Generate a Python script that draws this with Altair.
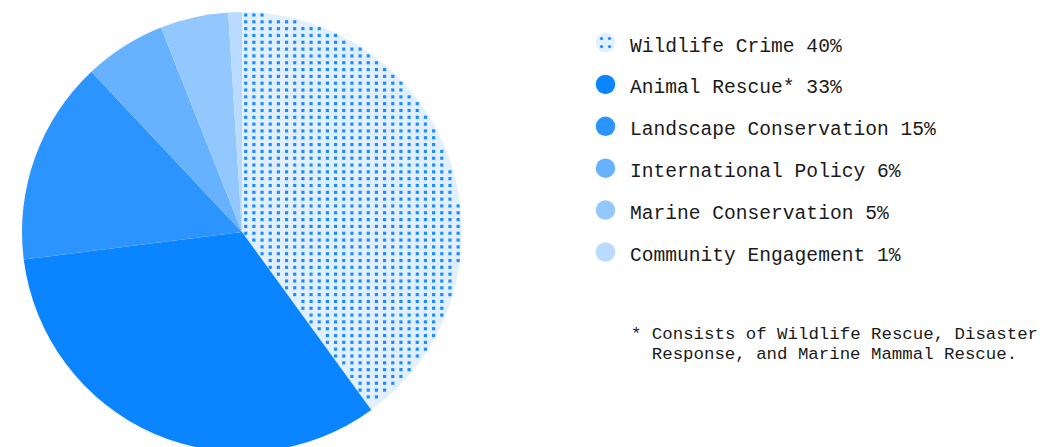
import altair as alt
import pandas as pd

# ---- data ----
categories = ["Wildlife Crime", "Animal Rescue*", "Landscape Conservation",
              "International Policy", "Marine Conservation", "Community Engagement"]
shares = [40, 33, 15, 6, 5, 1]
colors = ["#e1efff", "#0a84ff", "#2c94ff", "#66b2ff", "#93c8ff", "#b8dbff"]
footnote_lines = ["* Consists of Wildlife Rescue, Disaster",
                  "Response, and Marine Mammal Rescue."]

labels = [f"{c} {s}%" for c, s in zip(categories, shares)]
df = pd.DataFrame({"category": categories, "share": shares,
                   "label": labels, "order": list(range(len(categories)))})

W, H = 1043, 447
CX, CY, R = 242, 232, 220
DOT = "#1a8cff"
FONT = "Liberation Mono"

# ---- pie ----
pie = alt.Chart(df).mark_arc(outerRadius=R, strokeWidth=0).encode(
    theta=alt.Theta("share:Q", stack=True),
    order=alt.Order("order:Q"),
    color=alt.Color("category:N", scale=alt.Scale(domain=categories, range=colors), legend=None),
    x=alt.value(CX), y=alt.value(CY),
)

# ---- dotted texture on the first wedge ----
NC, NR = 28, 66
end_angle = 2 * 3.141592653589793 * shares[0] / sum(shares)
px_scale = alt.Scale(domain=[0, W], range=[0, W], nice=False, zero=False)
py_scale = alt.Scale(domain=[0, H], range=[0, H], nice=False, zero=False)
dots = alt.Chart(alt.sequence(0, NC * NR, as_="i")).transform_calculate(
    px=f"{CX + 3.7} + 8.17 * (datum.i % {NC})",
    py=f"15 + 6.82 * floor(datum.i / {NC})",
).transform_calculate(
    dx=f"datum.px - {CX}", dy=f"datum.py - {CY}",
).transform_calculate(
    r="sqrt(datum.dx * datum.dx + datum.dy * datum.dy)",
    a="atan2(datum.dx, -datum.dy)",
).transform_filter(
    f"datum.r <= {R - 2} && datum.a >= 0 && datum.r * sin({end_angle} - datum.a) >= 2"
).mark_square(size=10, color=DOT, opacity=1, strokeWidth=0).encode(
    x=alt.X("px:Q", scale=px_scale, axis=None),
    y=alt.Y("py:Q", scale=py_scale, axis=None),
)

# ---- legend ----
ly = alt.Y("label:N", scale=alt.Scale(type="point", domain=labels, range=[42.5, 252], padding=0), axis=None)
leg_circles = alt.Chart(df).mark_circle(size=380, opacity=1).encode(
    x=alt.value(605.5), y=ly,
    color=alt.Color("category:N", scale=alt.Scale(domain=categories, range=colors), legend=None),
)
first = df.iloc[[0]]
leg_dots = [
    alt.Chart(first).mark_circle(size=10, color=DOT, opacity=1, xOffset=ox, yOffset=oy).encode(
        x=alt.value(605.5), y=ly)
    for ox in (-4, 4) for oy in (-4, 4)
]
leg_text = alt.Chart(df).mark_text(align="left", baseline="alphabetic", dy=9,
                                    font=FONT, fontSize=19.6, color="#1a1a1a").encode(
    x=alt.value(630), y=ly, text="label:N")

# ---- footnote ----
fn1 = alt.Chart(pd.DataFrame({"t": [footnote_lines[0]]})).mark_text(
    align="left", baseline="alphabetic", font=FONT, fontSize=17.4, color="#1a1a1a").encode(
    x=alt.value(631), y=alt.value(338.5), text="t:N")
fn2 = alt.Chart(pd.DataFrame({"t": [footnote_lines[1]]})).mark_text(
    align="left", baseline="alphabetic", font=FONT, fontSize=17.4, color="#1a1a1a").encode(
    x=alt.value(651.8), y=alt.value(359), text="t:N")

chart = alt.layer(pie, dots, leg_circles, *leg_dots, leg_text, fn1, fn2).resolve_scale(
    x="independent", y="independent", color="independent"
).properties(
    width=W, height=H, padding=0, background="white",
    autosize=alt.AutoSizeParams(type="none"),
).configure_view(stroke=None)

chart.save("out.html", embed_options={"renderer": "svg", "actions": False})
